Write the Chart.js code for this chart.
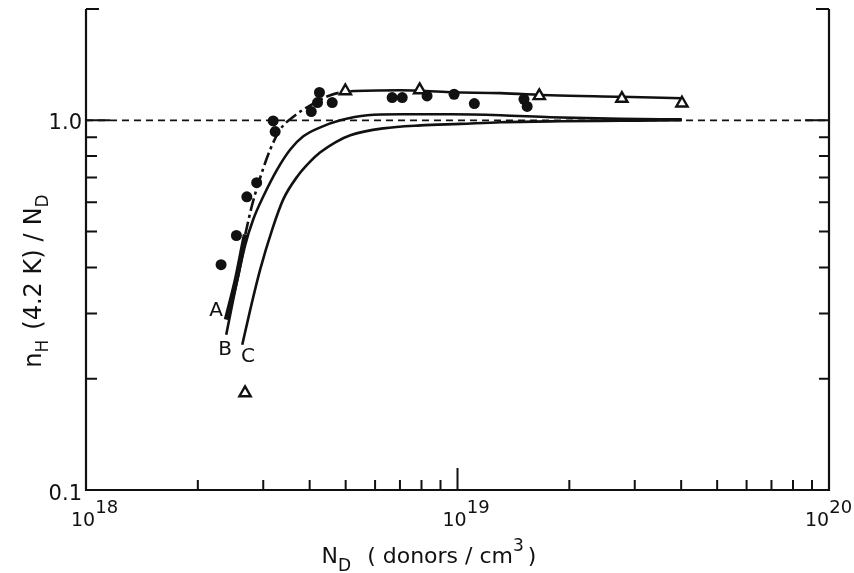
<!DOCTYPE html>
<html><head><meta charset="utf-8">
<script src="https://cdn.jsdelivr.net/npm/chart.js@4/dist/chart.umd.min.js"></script>
<style>html,body{margin:0;padding:0;background:#fff;}#wrap{width:854px;height:573px;}</style>
</head><body><div id="wrap"><canvas id="c" width="854" height="573"></canvas></div>
<script>
// ---------- data ----------
const circlesX = [2.31e18, 2.54e18, 2.71e18, 2.88e18, 3.19e18, 3.23e18, 4.04e18, 4.20e18, 4.25e18, 4.60e18, 6.67e18, 7.10e18, 8.28e18, 9.79e18, 1.11e19, 1.51e19, 1.54e19];
const circlesY = [0.407, 0.488, 0.621, 0.678, 0.996, 0.932, 1.056, 1.117, 1.189, 1.117, 1.152, 1.152, 1.164, 1.176, 1.110, 1.140, 1.090];

const trianglesX = [4.99e18, 7.91e18, 1.66e19, 2.77e19, 4.02e19, 2.68e18];
const trianglesY = [1.20, 1.208, 1.164, 1.145, 1.112, 0.183];

const curveAX = [2.385e18, 2.537e18, 2.684e18, 2.802e18, 2.981e18, 3.133e18, 3.334e18, 3.660e18, 4.017e18, 4.547e18, 5.147e18, 7.021e18, 9.575e18, 1.306e19, 1.781e19, 2.751e19, 4.016e19];
const curveAY = [0.289, 0.371, 0.491, 0.592, 0.727, 0.834, 0.945, 1.032, 1.098, 1.169, 1.198, 1.206, 1.191, 1.184, 1.169, 1.158, 1.147];

const curveBX = [2.385e18, 2.522e18, 2.684e18, 2.819e18, 3.000e18, 3.272e18, 3.547e18, 3.846e18, 4.273e18, 4.837e18, 5.72e18, 7.02e18, 9.58e18, 1.306e19, 1.781e19, 2.751e19, 4.016e19];
const curveBY = [0.263, 0.348, 0.461, 0.539, 0.622, 0.737, 0.834, 0.905, 0.957, 1.0, 1.032, 1.038, 1.038, 1.032, 1.019, 1.009, 1.006];

const curveCX = [2.634e18, 2.767e18, 2.944e18, 3.172e18, 3.396e18, 3.706e18, 4.017e18, 4.273e18, 4.690e18, 5.147e18, 6.317e18, 7.95e18, 1.019e19, 1.306e19, 1.895e19, 2.751e19, 4.016e19];
const curveCY = [0.247, 0.307, 0.395, 0.507, 0.611, 0.705, 0.774, 0.819, 0.872, 0.911, 0.951, 0.969, 0.978, 0.988, 0.994, 0.997, 1.0];

const refLineX = [1e18, 1e20];
const refLineY = [1.0, 1.0];

const curveLabels = ['A', 'B', 'C'];
const curveLabelX = [2.24e18, 2.37e18, 2.73e18];
const curveLabelY = [0.305, 0.2395, 0.229];

const xMin = 1e18, xMax = 1e20;
const yMin = 0.1, yMax = 2.0;
const xMajorTicks = [1e18, 1e19, 1e20];
const xMajorLabels = [['10', '18'], ['10', '19'], ['10', '20']];
const xMinorMultipliers = [2, 3, 4, 5, 6, 7, 8, 9];
const yMinorTicks = [0.2, 0.3, 0.4, 0.5, 0.6, 0.7, 0.8, 0.9];
const yMajorTicks = [1.0, 2.0];
const yTickLabels = ['0.1', '1.0'];
const yTickLabelValues = [0.1, 1.0];

const zip = (xs, ys) => xs.map((x, i) => ({x, y: ys[i]}));

const FONT = '"DejaVu Sans", sans-serif';

function drawRuns(ctx, runs, x, y, align) {
  let w = 0;
  runs.forEach(r => { ctx.font = r.size + 'px ' + FONT; r.w = ctx.measureText(r.t).width; w += r.w + (r.gap || 0); });
  let cx = align === 'center' ? x - w / 2 : align === 'right' ? x - w : x;
  runs.forEach(r => {
    ctx.font = r.size + 'px ' + FONT;
    ctx.textAlign = 'left';
    ctx.textBaseline = 'alphabetic';
    ctx.fillText(r.t, cx, y + (r.dy || 0));
    cx += r.w + (r.gap || 0);
  });
}

const axesPlugin = {
  id: 'axesPlugin',
  afterDraw(chart) {
    const ctx = chart.ctx;
    const xs = chart.scales.x, ys = chart.scales.y;
    const L = xs.getPixelForValue(xMin), R = xs.getPixelForValue(xMax);
    const B = ys.getPixelForValue(yMin), T = ys.getPixelForValue(yMax);
    ctx.save();
    ctx.strokeStyle = '#111';
    ctx.fillStyle = '#111';
    ctx.lineWidth = 2.2;
    ctx.lineCap = 'butt';
    ctx.beginPath();
    ctx.moveTo(L, T); ctx.lineTo(L, B); ctx.lineTo(R, B); ctx.lineTo(R, T);
    ctx.stroke();
    // y ticks
    ctx.lineWidth = 2;
    ctx.beginPath();
    yMinorTicks.forEach(v => {
      const p = ys.getPixelForValue(v);
      ctx.moveTo(L, p); ctx.lineTo(L + 11, p);
      ctx.moveTo(R, p); ctx.lineTo(R - 10, p);
    });
    yMajorTicks.forEach(v => {
      const p = ys.getPixelForValue(v);
      const len = v === 1.0 ? 24 : 13;
      ctx.moveTo(L, p); ctx.lineTo(L + len, p);
      ctx.moveTo(R, p); ctx.lineTo(R - len, p);
    });
    // x ticks
    for (let d = 0; d < xMajorTicks.length - 1; d++) {
      xMinorMultipliers.forEach(m => {
        const p = xs.getPixelForValue(xMajorTicks[d] * m);
        ctx.moveTo(p, B); ctx.lineTo(p, B - 10);
      });
    }
    const p19 = xs.getPixelForValue(xMajorTicks[1]);
    ctx.moveTo(p19, B); ctx.lineTo(p19, B - 22);
    ctx.stroke();

    // y tick labels
    yTickLabels.forEach((t, i) => {
      const p = ys.getPixelForValue(yTickLabelValues[i]);
      drawRuns(ctx, [{t, size: 21}], L - 4, p + (i === 0 ? 10 : 9), 'right');
    });
    // x tick labels
    xMajorLabels.forEach((lab, i) => {
      const p = xs.getPixelForValue(xMajorTicks[i]);
      const runs = [{t: lab[0], size: 19}, {t: lab[1], size: 18, dy: -13}];
      if (i === 2) drawRuns(ctx, runs, p - 24, B + 36, 'left');
      else drawRuns(ctx, runs, p - 15, B + 36, 'left');
    });
    // x title
    drawRuns(ctx, [
      {t: 'N', size: 22},
      {t: 'D', size: 17, dy: 8, gap: 16},
      {t: '( donors / cm', size: 22},
      {t: '3', size: 17, dy: -12, gap: 4},
      {t: ')', size: 22}
    ], 429, B + 73, 'center');
    // y title
    ctx.save();
    ctx.translate(41, 281);
    ctx.rotate(-Math.PI / 2);
    drawRuns(ctx, [
      {t: 'n', size: 24},
      {t: 'H', size: 17, dy: 7, gap: 10},
      {t: '(4.2 K)', size: 24, gap: 8},
      {t: '/', size: 24, gap: 8},
      {t: 'N', size: 24},
      {t: 'D', size: 17, dy: 7}
    ], 0, 0, 'center');
    ctx.restore();
    // curve labels
    curveLabels.forEach((t, i) => {
      const px = xs.getPixelForValue(curveLabelX[i]);
      const py = ys.getPixelForValue(curveLabelY[i]);
      ctx.font = '20px ' + FONT;
      ctx.textAlign = 'center';
      ctx.textBaseline = 'middle';
      ctx.fillText(t, px, py);
    });
    ctx.restore();
  }
};

const lineBase = {
  showLine: true, pointRadius: 0, borderColor: '#111', borderWidth: 2.6,
  cubicInterpolationMode: 'monotone', fill: false
};

new Chart(document.getElementById('c'), {
  type: 'scatter',
  data: {
    datasets: [
      {label: 'circles', data: zip(circlesX, circlesY), pointStyle: 'circle', pointRadius: 5.5,
       backgroundColor: '#111', borderColor: '#111', borderWidth: 0, showLine: false},
      {label: 'triangles', data: zip(trianglesX, trianglesY), pointStyle: 'triangle', pointRadius: 6.5,
       backgroundColor: '#fff', borderColor: '#111', borderWidth: 2.4, showLine: false},
      Object.assign({label: 'A', data: zip(curveAX, curveAY),
        segment: {
          borderDash: c => (c.p0DataIndex >= 2 && c.p0DataIndex < 10) ? [13, 4, 3, 4] : [],
          borderWidth: c => c.p0DataIndex < 2 ? 5 : 2.6
        }}, lineBase),
      Object.assign({label: 'B', data: zip(curveBX, curveBY)}, lineBase),
      Object.assign({label: 'C', data: zip(curveCX, curveCY)}, lineBase),
      Object.assign({label: 'ref', data: zip(refLineX, refLineY), borderDash: [7, 5]}, lineBase, {borderWidth: 1.8, cubicInterpolationMode: 'default', tension: 0})
    ]
  },
  options: {
    responsive: false, animation: false, devicePixelRatio: 1,
    layout: {padding: {left: 86, right: 25, top: 9, bottom: 83}},
    plugins: {legend: {display: false}, tooltip: {enabled: false}},
    scales: {
      x: {type: 'logarithmic', min: xMin, max: xMax, display: false},
      y: {type: 'logarithmic', min: yMin, max: yMax, display: false}
    }
  },
  plugins: [axesPlugin]
});
</script></body></html>
